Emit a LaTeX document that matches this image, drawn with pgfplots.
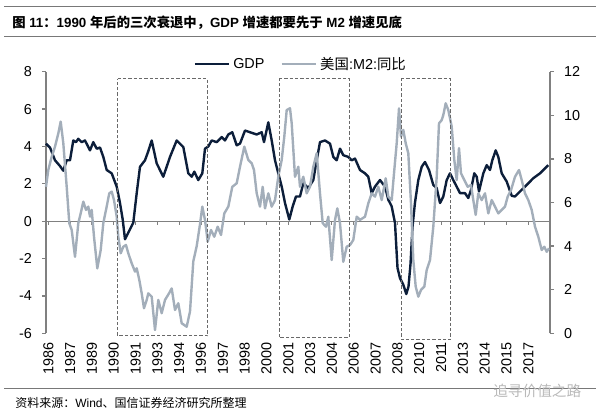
\documentclass[border=0pt]{standalone}
\usepackage{fontspec}
\setmainfont{Liberation Sans}
\newfontfamily\cjk{Noto Sans CJK SC}
\usepackage{pgfplots}
\pgfplotsset{compat=1.18}
\definecolor{gdp}{RGB}{12,30,58}
\definecolor{mtwo}{RGB}{163,174,186}
\definecolor{axisgray}{RGB}{128,128,128}
\definecolor{boxgray}{RGB}{105,105,105}
\definecolor{rulegray}{RGB}{120,120,120}
\begin{document}
\begin{tikzpicture}
\path[use as bounding box] (0pt,0pt) rectangle (450pt,312.75pt);
% title and rules
\draw[rulegray, line width=0.6pt] (3pt,307.7pt) -- (447pt,307.7pt);
\draw[rulegray, line width=0.6pt] (3pt,285.2pt) -- (447pt,285.2pt);
\node[anchor=west, inner sep=0pt] at (9pt,295.9pt) {\fontsize{10}{12}\selectfont\bfseries {\cjk\bfseries 图} 11{\cjk\bfseries ：}1990 {\cjk\bfseries 年后的三次衰退中，}GDP {\cjk\bfseries 增速都要先于} M2 {\cjk\bfseries 增速见底}};
\draw[rulegray, line width=0.6pt] (3pt,21.75pt) -- (447pt,21.75pt);
\node[anchor=west, inner sep=0pt] at (11.25pt,10.7pt) {\fontsize{9}{11}\selectfont {\cjk 资料来源：}Wind{\cjk 、国信证券经济研究所整理}};
\node[anchor=west, inner sep=0pt, text=gray!55] at (369.75pt,19.5pt) {\fontsize{11}{13}\selectfont\cjk 追寻价值之路};

\begin{axis}[
  scale only axis, width=378pt, height=196.2pt,
  at={(34.5pt,62.78pt)}, anchor=south west,
  xmin=46, xmax=550, ymin=-6, ymax=8,
  axis y line*=left, axis x line*=bottom,
  x axis line style={draw=none},
  xtick style={draw=none},
  y axis line style={axisgray, line width=1pt},
  ytick style={axisgray, line width=1pt},
  tick align=outside, major tick length=3pt,
  ytick={-6,-4,...,8},
  xtick={48.30,70.12,91.94,113.76,135.58,157.40,179.22,201.04,222.86,244.68,266.50,288.32,310.14,331.96,353.78,375.60,397.42,419.24,441.06,462.88,484.70,506.52,528.34},
  xticklabels={1986,1987,1989,1990,1991,1993,1994,1996,1997,1998,2000,2001,2003,2004,2006,2007,2008,2010,2011,2013,2014,2015,2017},
  xticklabel style={rotate=90, anchor=east},
  yticklabel style={xshift=-4pt},
  tick label style={font=\fontsize{10.8}{12}\selectfont},
  /pgf/number format/assume math mode=true,
  clip=false,
]
\draw[axisgray, line width=1pt] (axis cs:46,0) -- (axis cs:550,0);
\pgfplotsinvokeforeach{48.30,70.12,91.94,113.76,135.58,157.40,179.22,201.04,222.86,244.68,266.50,288.32,310.14,331.96,353.78,375.60,397.42,419.24,441.06,462.88,484.70,506.52,528.34}{
  \draw[axisgray, line width=0.8pt] (axis cs:#1,0) -- ++(0pt,-2.5pt);
}
% GDP (left axis)
\addplot[gdp, line width=1.8pt, line join=round] coordinates {
(46,4.15) (50,3.94) (55,3.26) (60,2.95) (63.3,2.70) (66.7,3.26) (70,3.26) (73.3,4.32)
(76,4.23) (78.3,4.41) (81.7,4.23) (85,4.32) (90,3.79) (93.3,4.23) (96.7,3.88) (100,3.94)
(103.3,3.44) (106.7,2.74) (111.7,2.56) (116.7,1.85) (120,0.97) (122.7,0.09) (125,-0.97)
(128.3,-0.61) (133.3,-0.08) (136.7,1.50) (140,2.91) (145,3.26) (148,3.70) (151.7,4.32)
(156.7,3.09) (163.3,2.38) (170,3.44) (176.7,4.32) (183.3,3.97) (188.3,2.56) (191.7,2.38)
(194.3,2.65) (198.3,2.20) (202.3,2.56) (205,3.88) (208.3,4.00) (211.7,4.32) (216.7,4.23)
(221.7,4.50) (225,4.32) (228.3,4.64) (232.3,4.76) (236.7,4.06) (240,4.15) (245,4.85)
(250,4.76) (256.7,4.64) (261.7,4.76) (264,4.23) (268.3,5.29) (271.7,4.32) (275,3.26)
(278.3,2.56) (281.7,1.85) (285,0.97) (289.3,0.09) (292.7,0.79) (296,1.32) (300,1.32)
(303.3,2.03) (308.3,1.77) (313.3,2.20) (316.7,3.26) (320,4.23) (325,4.32) (330,4.15)
(333.3,3.44) (336.7,3.26) (340,3.88) (343.3,3.53) (348.3,3.44) (351.7,3.26) (355,3.35)
(360,2.74) (365,2.56) (368.3,2.38) (371.7,1.50) (375,1.85) (380,2.20) (385,1.85)
(388.3,1.15) (391.7,0.79) (395,-0.10) (397.5,-2.50) (400,-3.05) (403.3,-3.40) (406.3,-3.90)
(408.5,-3.50) (410.5,-2.30) (412.5,-0.30) (415,1.00) (418.3,2.20) (421.7,2.91) (425,3.17)
(429,2.74) (433.3,1.94) (436.7,1.77) (440,0.97) (443.3,1.32) (446.7,2.20) (450,2.56)
(453.3,2.20) (456.7,1.85) (460,1.50) (465,1.50) (468.3,1.24) (471,1.68) (474.3,2.56)
(476.7,2.38) (479,1.59) (483.3,2.56) (486.7,3.00) (490,2.74) (492.3,3.26) (495.7,3.79)
(498.3,3.44) (501.7,2.56) (506.7,2.12) (511.7,1.36) (515,1.32) (520,1.59) (526.7,1.94)
(533.3,2.30) (540,2.56) (545,2.83) (548.3,3.00)
};
\end{axis}

\begin{axis}[
  scale only axis, width=378pt, height=196.2pt,
  at={(34.5pt,62.78pt)}, anchor=south west,
  xmin=46, xmax=550, ymin=0, ymax=12,
  axis y line*=right, axis x line=none,
  y axis line style={axisgray, line width=1pt},
  ytick style={axisgray, line width=1pt},
  tick align=outside, major tick length=3pt,
  ytick={0,2,...,12},
  yticklabel style={xshift=4pt},
  tick label style={font=\fontsize{10.8}{12}\selectfont},
  /pgf/number format/assume math mode=true,
  clip=false,
  legend columns=2,
  legend style={at={(axis description cs:0.506,1.029)}, anchor=center, draw=none, fill=none,
    font=\fontsize{10.8}{12}\selectfont, inner sep=0pt,
    /tikz/every even column/.append style={column sep=10pt}},
  legend image code/.code={\draw[#1] (0pt,0pt) -- (26pt,0pt);},
]
\addlegendimage{gdp, line width=1.8pt}
\addlegendentry{GDP}
% M2 yoy (right axis)
\addplot[mtwo, line width=1.8pt, line join=round] coordinates {
(46,6.72) (48.3,7.49) (51.7,8.10) (55,8.56) (58.3,9.17) (60.7,9.71) (63.3,8.72) (66.7,6.72)
(69.3,5.05) (71.7,4.74) (75,3.51) (78.3,5.05) (80.7,5.50) (83.3,6.04) (86,5.66) (88.3,5.81)
(90,5.35) (91.7,5.66) (94,4.43) (97.3,2.98) (100.7,3.82) (103.3,5.05) (106,5.66) (109.3,6.42)
(111.7,6.50) (114,6.11) (116.7,5.35) (118.3,4.43) (120.7,3.67) (123.3,3.97) (126,4.05)
(128.3,3.67) (131.7,3.21) (135,2.83) (136.7,2.98) (139.3,2.45) (141.7,1.83) (144,1.15)
(146.7,1.53) (148.3,1.83) (151.7,1.68) (155,0.15) (158.3,1.53) (161.7,0.92) (165,1.53)
(169,1.83) (171.7,2.06) (175,1.07) (178.3,1.38) (181.7,0.46) (186.7,0.30) (190,1.00)
(193.3,3.30) (196.7,4.00) (200,5.00) (202.3,5.81) (205,5.20) (207.7,4.20) (211,4.74)
(214.3,4.43) (217.7,4.89) (221,4.51) (224.3,5.50) (228.3,5.81) (232.3,6.72) (236.7,6.88)
(240,7.64) (244.3,8.56) (248.3,7.95) (251.7,7.80) (254,7.49) (256.7,6.42) (260,5.81)
(262.7,6.72) (265,5.73) (268.3,6.42) (271.7,5.81) (275,6.11) (278.3,7.18) (281.7,7.95)
(284.3,9.02) (286.7,10.24) (290,10.32) (291.7,9.63) (295,7.18) (298.3,7.64) (300,6.72)
(303.3,7.18) (306.7,6.42) (310,6.72) (313.3,7.64) (316.7,8.26) (320,6.42) (322.7,5.05)
(326,4.89) (328.3,5.35) (331.7,3.36) (335,5.20) (337.3,5.73) (340,5.05) (343.3,3.28)
(346.7,3.97) (350,4.05) (353.3,4.28) (356.7,5.35) (360,5.20) (365,5.35) (368.3,5.96)
(371.7,6.42) (375,6.27) (378.3,6.72) (381.7,6.11) (385.7,7.11) (388.3,6.27) (391.7,6.11)
(394.3,7.49) (396.7,8.72) (399,10.32) (401,9.02) (403.3,9.33) (405.7,8.72) (408.3,8.26)
(411,5.96) (413.3,3.36) (415.7,2.14) (418.3,1.68) (421,1.99) (424.3,2.14) (426.7,2.90)
(430,3.36) (433.3,4.89) (436.7,7.18) (439,9.63) (441.7,9.78) (443.3,10.01) (445.7,10.55)
(448.3,10.24) (451.7,9.48) (454.3,7.95) (456.7,7.03) (459,8.49) (461,7.34) (464.3,7.03)
(467.7,6.72) (471,6.80) (473.3,6.11) (475.7,5.43) (478.3,6.42) (481.7,6.11) (485,6.42)
(488.3,5.50) (491.7,6.11) (495,5.81) (498.3,5.50) (501.7,5.66) (505,5.81) (507.7,6.27)
(511,6.57) (515,7.18) (519,7.49) (521.7,7.03) (525,6.42) (528.3,6.11) (531.7,5.66)
(535,4.89) (538.3,4.43) (541.7,3.82) (544.3,3.97) (546.7,3.74) (549,3.90)
};
\addlegendentry{{\cjk 美国}:M2:{\cjk 同比}}
% dashed boxes marking the three recessions
\addplot[boxgray, line width=0.7pt, dash pattern=on 2.5pt off 1.5pt, forget plot] coordinates {(117.7,11.67) (207.7,11.67) (207.7,-0.12) (117.7,-0.12) (117.7,11.67)};
\addplot[boxgray, line width=0.7pt, dash pattern=on 2.5pt off 1.5pt, forget plot] coordinates {(279,11.67) (349.3,11.67) (349.3,-0.2) (279,-0.2) (279,11.67)};
\addplot[boxgray, line width=0.7pt, dash pattern=on 2.5pt off 1.5pt, forget plot] coordinates {(401,11.67) (450.7,11.67) (450.7,-0.28) (401,-0.28) (401,11.67)};
\end{axis}
\end{tikzpicture}
\end{document}
